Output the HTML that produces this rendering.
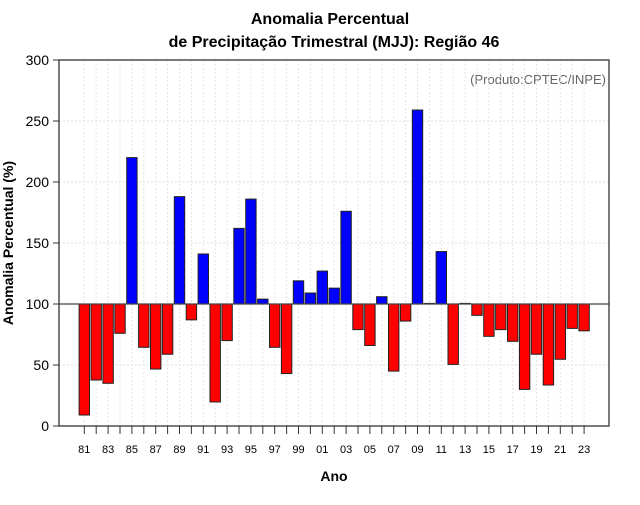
<!DOCTYPE html>
<html><head><meta charset="utf-8"><style>
body{margin:0;background:#fff;}
svg text{font-family:"Liberation Sans",sans-serif;}
</style></head><body>
<svg id="c" width="640" height="500">
<text x="330" y="24" text-anchor="middle" font-size="16" font-weight="bold">Anomalia Percentual</text>
<text x="334" y="47" text-anchor="middle" font-size="16" font-weight="bold">de Precipitação Trimestral (MJJ): Região 46</text>
<text x="606" y="84" text-anchor="end" font-size="13" fill="#666">(Produto:CPTEC/INPE)</text>
<text x="334" y="481" text-anchor="middle" font-size="14" font-weight="bold">Ano</text>
<text transform="translate(13,243) rotate(-90)" text-anchor="middle" font-size="14" font-weight="bold">Anomalia Percentual (%)</text>
<g id="grid"></g><g id="bars"></g><g id="axes"></g>
</svg>
<script>
const years=[81,82,83,84,85,86,87,88,89,90,91,92,93,94,95,96,97,98,99,0,1,2,3,4,5,6,7,8,9,10,11,12,13,14,15,16,17,18,19,20,21,22,23];
const values=[9,37.7,35,76,220,64.5,46.7,58.8,188,87,141,19.7,70,162,186,104,64.5,43,119,109,127,113,176,79,66,106,45,86,259,100.5,143,50.5,100.5,90.7,73.5,79,69.4,30,58.8,33.6,54.7,80,78];
const yTicks=[0,50,100,150,200,250,300];
const NS="http://www.w3.org/2000/svg";
const L=59,R=609,T=60,B=426;
const y=v=>B-(v/300)*(B-T);
const x=i=>84.3+i*11.9;
function mk(t,a,p){const e=document.createElementNS(NS,t);for(const k in a)e.setAttribute(k,a[k]);p.appendChild(e);return e;}
const g=document.getElementById('grid'),bg=document.getElementById('bars'),ax=document.getElementById('axes');
yTicks.forEach(v=>{
 if(v>0&&v<300){const l=mk('line',{x1:L,x2:R,y1:y(v),y2:y(v),stroke:'#ddd','stroke-dasharray':'2,2'},g);
 
 }
 const tk=mk('line',{x1:L-6,x2:L,y1:y(v),y2:y(v),stroke:'#333'},ax);
 
 
 const t=mk('text',{x:L-10,y:y(v)+5,'text-anchor':'end','font-size':14},ax);t.textContent=v;
 
 
});
years.forEach((yr,i)=>{
 const gl=mk('line',{x1:x(i),x2:x(i),y1:T,y2:B,stroke:'#e4e4e4','stroke-dasharray':'2,2'},g);
 
 
 const v=values[i];
 const r=mk('rect',{x:x(i)-5.2,width:10.4,y:Math.min(y(v),y(100)),height:Math.abs(y(v)-y(100)),fill:v>=100?'#0000ff':'#ff0000',stroke:'#222','stroke-width':1},bg);
 
 
 const tk=mk('line',{x1:x(i),x2:x(i),y1:B,y2:B+8,stroke:'#333'},ax);
 
 
 if(i%2===0){const t=mk('text',{x:x(i),y:B+27,'text-anchor':'middle','font-size':11},ax);t.textContent=String(yr).padStart(2,'0');
 
 }
});
const ref=mk('line',{x1:L,x2:R,y1:y(100),y2:y(100),stroke:'#444','stroke-width':1.3},ax);


const box=mk('rect',{x:L,y:T,width:R-L,height:B-T,fill:'none',stroke:'#333','stroke-width':1.3},ax);


</script>
</body></html>
